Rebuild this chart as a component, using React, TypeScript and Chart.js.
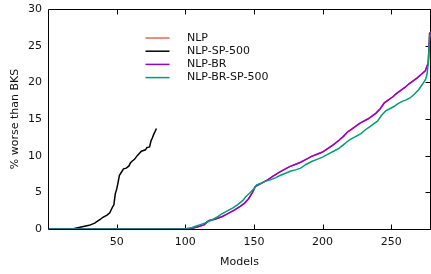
import React, { useEffect, useRef } from 'react';
import { Chart, registerables } from 'chart.js';

Chart.register(...registerables);

const seriesLabels = ['NLP', 'NLP-SP-500', 'NLP-BR', 'NLP-BR-SP-500'];
const seriesColors = ['#ee6352', '#000000', '#9400d3', '#009e73'];

const xTickValues = [50, 100, 150, 200, 250];
const yTickValues = [0, 5, 10, 15, 20, 25, 30];

// NLP (hidden under NLP-BR in the reference)
const nlpX = [1, 103, 105, 108, 111, 114, 116, 118, 121, 124, 127, 130, 133, 136, 140, 143, 146, 149, 151, 153, 156, 160, 164, 168, 172, 176, 180, 184, 188, 192, 196, 200, 204, 208, 212, 215, 218, 221, 224, 227, 230, 233, 236, 239, 242, 245, 248, 251, 254, 257, 260, 263, 266, 269, 272, 275, 276, 277, 278, 279];
const nlpY = [0, 0, 0.1, 0.25, 0.4, 0.6, 1.0, 1.2, 1.3, 1.5, 1.7, 2.0, 2.3, 2.6, 3.1, 3.5, 4.1, 5.0, 5.8, 6.0, 6.3, 6.7, 7.2, 7.7, 8.1, 8.5, 8.8, 9.1, 9.5, 9.9, 10.2, 10.5, 11.0, 11.5, 12.1, 12.6, 13.2, 13.6, 14.0, 14.4, 14.7, 15.0, 15.4, 15.8, 16.4, 17.2, 17.6, 18.0, 18.5, 18.9, 19.3, 19.8, 20.2, 20.6, 21.1, 21.6, 22.2, 22.6, 26.7, 26.9];

// NLP-SP-500
const nlpSpX = [1, 18, 20, 25, 30, 34, 38, 40, 43, 45, 47, 48, 49, 50, 51, 52, 53, 55, 57, 59, 60, 61, 63, 65, 67, 68, 71, 72, 74, 75, 76, 77, 78, 79];
const nlpSpY = [0, 0, 0.1, 0.3, 0.5, 0.8, 1.3, 1.6, 1.9, 2.2, 3.0, 3.3, 4.8, 5.4, 6.3, 7.3, 7.6, 8.2, 8.3, 8.6, 9.0, 9.2, 9.5, 10.0, 10.4, 10.6, 10.8, 11.1, 11.2, 12.0, 12.4, 12.9, 13.3, 13.7];

// NLP-BR
const nlpBrX = [1, 103, 105, 108, 111, 114, 116, 118, 121, 124, 127, 130, 133, 136, 140, 143, 146, 149, 151, 153, 156, 160, 164, 168, 172, 176, 180, 184, 188, 192, 196, 200, 204, 208, 212, 215, 218, 221, 224, 227, 230, 233, 236, 239, 242, 245, 248, 251, 254, 257, 260, 263, 266, 269, 272, 275, 276, 277, 278, 279];
const nlpBrY = [0, 0, 0.1, 0.25, 0.4, 0.6, 1.0, 1.2, 1.3, 1.5, 1.7, 2.0, 2.3, 2.6, 3.1, 3.5, 4.1, 5.0, 5.8, 6.0, 6.3, 6.7, 7.2, 7.7, 8.1, 8.5, 8.8, 9.1, 9.5, 9.9, 10.2, 10.5, 11.0, 11.5, 12.1, 12.6, 13.2, 13.6, 14.0, 14.4, 14.7, 15.0, 15.4, 15.8, 16.4, 17.2, 17.6, 18.0, 18.5, 18.9, 19.3, 19.8, 20.2, 20.6, 21.1, 21.6, 22.2, 22.6, 26.7, 26.9];

// NLP-BR-SP-500
const nlpBrSpX = [1, 100, 102, 105, 108, 111, 114, 117, 120, 123, 126, 129, 132, 135, 138, 140, 142, 144, 147, 150, 152, 155, 158, 162, 166, 169, 173, 177, 181, 184, 188, 192, 196, 200, 204, 208, 212, 216, 220, 224, 228, 231, 234, 237, 240, 243, 246, 249, 252, 255, 258, 261, 264, 267, 270, 273, 275, 276, 277, 278, 279];
const nlpBrSpY = [0, 0, 0.1, 0.2, 0.4, 0.6, 0.8, 1.0, 1.3, 1.6, 2.0, 2.3, 2.6, 2.9, 3.3, 3.6, 3.9, 4.4, 4.9, 5.5, 6.0, 6.2, 6.5, 6.7, 7.0, 7.3, 7.6, 7.9, 8.1, 8.3, 8.8, 9.2, 9.5, 9.8, 10.2, 10.6, 11.0, 11.6, 12.2, 12.6, 13.0, 13.5, 13.9, 14.3, 14.7, 15.5, 16.1, 16.4, 16.7, 17.1, 17.4, 17.6, 17.9, 18.4, 19.0, 19.8, 20.4, 21.0, 22.5, 26.3, 26.6];

const seriesX = [nlpX, nlpSpX, nlpBrX, nlpBrSpX];
const seriesY = [nlpY, nlpSpY, nlpBrY, nlpBrSpY];

const FONT = 'DejaVu Sans';

const framePlugin = {
  id: 'frame',
  beforeDatasetsDraw(chart: any) {
    const { ctx, chartArea: a, scales } = chart;
    const x = scales.x;
    const y = scales.y;
    ctx.save();
    ctx.strokeStyle = '#000';
    ctx.lineWidth = 1;
    ctx.beginPath();
    const L = a.left + 0.5, T = a.top + 0.5, B = a.bottom + 0.5, R = a.right - 0.5;
    ctx.moveTo(L, T); ctx.lineTo(R + 1, T);
    ctx.moveTo(L, T); ctx.lineTo(L, B);
    ctx.moveTo(L, B); ctx.lineTo(R + 1, B);
    ctx.moveTo(R, T); ctx.lineTo(R, B);
    for (const v of xTickValues) {
      const px = Math.round(x.getPixelForValue(v)) + 0.5;
      ctx.moveTo(px, B); ctx.lineTo(px, B - 5);
      ctx.moveTo(px, T); ctx.lineTo(px, T + 5);
    }
    for (const v of yTickValues) {
      if (v === 0 || v === 30) continue;
      const py = Math.round(y.getPixelForValue(v)) + 0.5;
      ctx.moveTo(R, py); ctx.lineTo(R - 5, py);
    }
    ctx.stroke();
    ctx.restore();
  },
  afterDatasetsDraw(chart: any) {
    const { ctx } = chart;
    ctx.save();
    ctx.font = `11px "${FONT}"`;
    ctx.textBaseline = 'middle';
    ctx.textAlign = 'left';
    chart.data.datasets.forEach((ds: any, i: number) => {
      const yy = 38 + 13.2 * i;
      ctx.strokeStyle = ds.borderColor;
      ctx.lineWidth = 1.5;
      ctx.beginPath();
      ctx.moveTo(145.5, yy);
      ctx.lineTo(169.5, yy);
      ctx.stroke();
      ctx.fillStyle = '#111';
      ctx.fillText(ds.label, 187, yy);
    });
    ctx.restore();
  },
};

export default function App() {
  const ref = useRef<HTMLCanvasElement | null>(null);
  useEffect(() => {
    if (!ref.current) return;
    const datasets = seriesLabels.map((label, i) => ({
      label,
      data: seriesX[i].map((xv, j) => ({ x: xv, y: seriesY[i][j] })),
      borderColor: seriesColors[i],
      backgroundColor: seriesColors[i],
      borderWidth: 1.5,
      pointRadius: 0,
      tension: 0,
      fill: false,
      order: seriesLabels.length - 1 - i,
    }));
    const chart = new Chart(ref.current, {
      type: 'line',
      data: { datasets },
      options: {
        animation: false,
        responsive: false,
        devicePixelRatio: 1,
        layout: { padding: { top: 9, left: 0, right: 0, bottom: 0 } },
        plugins: { legend: { display: false }, tooltip: { enabled: false } },
        scales: {
          x: {
            type: 'linear',
            min: 0,
            max: 279,
            grid: { display: false, drawTicks: false },
            border: { display: false },
            afterBuildTicks: (s: any) => {
              s.ticks = xTickValues.map((v) => ({ value: v }));
            },
            afterFit: (s: any) => { s.height = 45; s.paddingLeft = 0; s.paddingRight = 0; },
            ticks: {
              padding: 7,
              color: '#111',
              font: { family: FONT, size: 11 },
              maxRotation: 0,
              autoSkip: false,
            },
            title: {
              display: true,
              text: 'Models',
              color: '#111',
              font: { family: FONT, size: 11 },
              padding: { top: 0, bottom: 5 },
            },
          },
          y: {
            type: 'linear',
            min: 0,
            max: 30,
            grid: { display: false, drawTicks: false },
            border: { display: false },
            afterBuildTicks: (s: any) => {
              s.ticks = yTickValues.map((v) => ({ value: v }));
            },
            afterFit: (s: any) => { s.width = 48; s.paddingTop = 0; s.paddingBottom = 0; },
            ticks: {
              padding: 6,
              color: '#111',
              font: { family: FONT, size: 11 },
              autoSkip: false,
            },
            title: {
              display: true,
              text: '% worse than BKS',
              color: '#111',
              font: { family: FONT, size: 11 },
              padding: { top: 9, bottom: 0 },
            },
          },
        },
      },
      plugins: [framePlugin],
    });
    return () => chart.destroy();
  }, []);
  return (
    <div style={{ position: 'fixed', left: 0, top: 0, width: 431, height: 274, background: '#fff' }}>
      <canvas ref={ref} width={431} height={274} style={{ width: 431, height: 274, display: 'block' }} />
    </div>
  );
}
